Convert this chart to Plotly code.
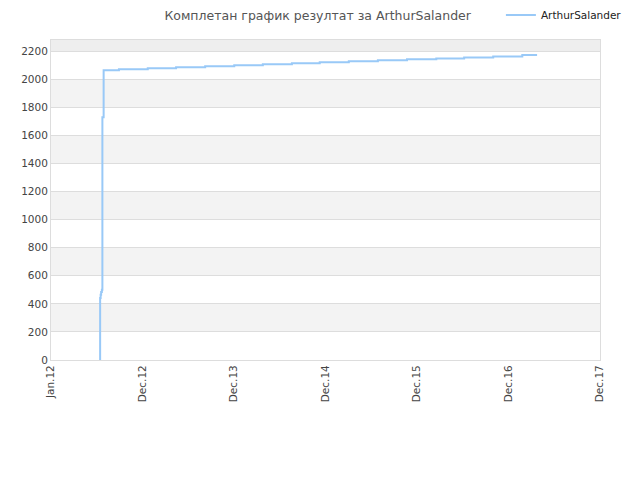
import plotly.graph_objects as go

# Step points of the cumulative result (date, total)
dates = [
    '2012-07-15', '2012-07-15', '2012-07-17', '2012-07-19', '2012-07-22',
    '2012-07-24', '2012-07-29', '2012-09-28', '2013-01-21',
    '2013-05-14', '2013-09-07', '2014-01-01', '2014-04-25', '2014-08-19',
    '2014-12-08', '2015-04-03', '2015-07-28', '2015-11-21', '2016-03-17',
    '2016-07-06', '2016-10-30', '2017-02-23', '2017-04-23',
]
totals = [
    0, 441, 465, 485, 500,
    1730, 2065, 2072, 2079,
    2086, 2093, 2100, 2107, 2114,
    2121, 2128, 2135, 2142, 2149,
    2156, 2163, 2173, 2173,
]

tick_dates = ['2012-01-01', '2012-12-31', '2013-12-31', '2014-12-31',
              '2015-12-31', '2016-12-30', '2017-12-30']
tick_text = ['Jan.12', 'Dec.12', 'Dec.13', 'Dec.14', 'Dec.15', 'Dec.16', 'Dec.17']

y_ticks = list(range(0, 2201, 200))
y_top = 2280

player = 'ArthurSalander'

fig = go.Figure()
fig.add_trace(go.Scatter(
    x=dates, y=totals, mode='lines', name=player,
    line=dict(color='#99c9f7', width=2, shape='hv'),
))

# alternating background bands
shapes = []
for lo in y_ticks:
    hi = lo + 200 if lo < 2200 else y_top
    if lo == 2200:
        col = '#eeeeee'
    elif (lo // 200) % 2 == 1:
        col = '#f3f3f3'
    else:
        continue
    shapes.append(dict(type='rect', xref='paper', yref='y', x0=0, x1=1,
                       y0=lo, y1=hi, fillcolor=col, line_width=0, layer='below'))

# page adds ~8px of body margin, so the figure is a bit smaller than the window
fig.update_layout(
    width=632, height=472,
    margin=dict(l=43, r=40, t=32, b=120, autoexpand=False),
    paper_bgcolor='white', plot_bgcolor='white',
    font=dict(family='DejaVu Sans', size=10.5, color='#444444'),
    title=dict(text='Комплетан график резултат за ' + player, x=0.49, xanchor='center',
               y=0.984, yanchor='middle', font=dict(size=12.5, color='#555555')),
    showlegend=True,
    legend=dict(x=1.049, xanchor='right', y=1.078, yanchor='middle',
                font=dict(size=10.5, color='#222222'), bgcolor='rgba(0,0,0,0)',
                itemwidth=30),
    shapes=shapes,
    xaxis=dict(type='date', range=['2012-01-01', '2017-12-30'],
               tickvals=tick_dates, ticktext=tick_text, tickangle=-90,
               showgrid=False, showline=True, linecolor='#dddddd', mirror=True,
               zeroline=False, ticks=''),
    yaxis=dict(range=[0, y_top], tickvals=y_ticks, showgrid=True,
               gridcolor='#dddddd', showline=True, linecolor='#dddddd',
               mirror=True, zeroline=False, ticks=''),
)

fig.write_html('out.html')
